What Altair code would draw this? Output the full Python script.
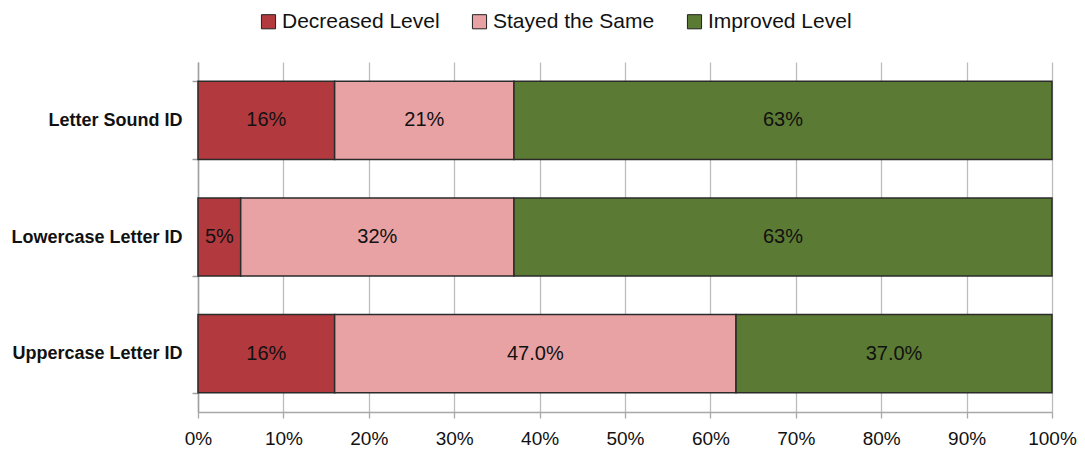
import altair as alt
import pandas as pd

skills = ["Letter Sound ID", "Lowercase Letter ID", "Uppercase Letter ID"]
levels = ["Decreased Level", "Stayed the Same", "Improved Level"]
colors = ["#B23A3E", "#E9A2A4", "#5B7A33"]

decreased = [16, 5, 16]
stayed = [21, 32, 47]
improved = [63, 63, 37]

decreased_labels = ["16%", "5%", "16%"]
stayed_labels = ["21%", "32%", "47.0%"]
improved_labels = ["63%", "63%", "37.0%"]

x_ticks = [0, 10, 20, 30, 40, 50, 60, 70, 80, 90, 100]

series = [(decreased, decreased_labels), (stayed, stayed_labels), (improved, improved_labels)]
rows = []
for i, s in enumerate(skills):
    for j, (vals, labs) in enumerate(series):
        rows.append({"skill": s, "level": levels[j], "order": j,
                     "value": vals[i], "label": labs[i]})
df = pd.DataFrame(rows)

FONT = "Liberation Sans"

base = alt.Chart(df).transform_stack(
    stack="value", as_=["x0", "x1"], groupby=["skill"],
    sort=[alt.SortField("order", order="ascending")]
).transform_calculate(xm="(datum.x0 + datum.x1) / 2")

y_enc = alt.Y(
    "skill:N", sort=skills, title=None,
    scale=alt.Scale(paddingInner=0.33, paddingOuter=0.165),
    axis=alt.Axis(tickBand="extent", domainColor="#a0a0a0", domainWidth=1.5,
                  tickColor="#a0a0a0", tickWidth=1.5, tickSize=6, labelPadding=10,
                  labelFont=FONT, labelFontSize=18, labelFontWeight="bold",
                  labelColor="#111111", grid=False, labelLimit=300),
)

bars = base.mark_bar(stroke="#2b2b2b", strokeWidth=1.5).encode(
    x=alt.X("x0:Q", title=None,
            scale=alt.Scale(domain=[0, 100], nice=False, zero=True),
            axis=alt.Axis(values=x_ticks, labelExpr="datum.value + '%'",
                          grid=True, gridColor="#bdbdbd", gridWidth=1.3,
                          domainColor="#a8a8a8", domainWidth=1.5,
                          tickColor="#a8a8a8", tickWidth=1.3, tickSize=6,
                          labelFont=FONT, labelFontSize=19, labelColor="#111111",
                          labelPadding=11, labelFlush=False)),
    x2="x1:Q",
    y=y_enc,
    color=alt.Color("level:N", sort=levels,
                    scale=alt.Scale(domain=levels, range=colors),
                    legend=alt.Legend(title=None, orient="none", direction="horizontal",
                                      legendX=60, legendY=-51,
                                      symbolType="square", symbolSize=200,
                                      symbolStrokeColor="#222222", symbolStrokeWidth=1,
                                      labelFont=FONT, labelFontSize=21,
                                      labelColor="#111111", labelOffset=3,
                                      labelLimit=400, columnPadding=29)),
)

text = base.mark_text(font=FONT, fontSize=20, color="#111111").encode(
    x=alt.X("xm:Q"),
    y=alt.Y("skill:N", sort=skills),
    text="label:N",
)

chart = alt.layer(bars, text).properties(
    width=854, height=350,
    autosize=alt.AutoSizeParams(type="none"),
    padding={"left": 190, "top": 54, "right": 25, "bottom": 37},
).configure_view(stroke=None)

chart.save("out.html", embed_options={"renderer": "svg", "actions": False})
